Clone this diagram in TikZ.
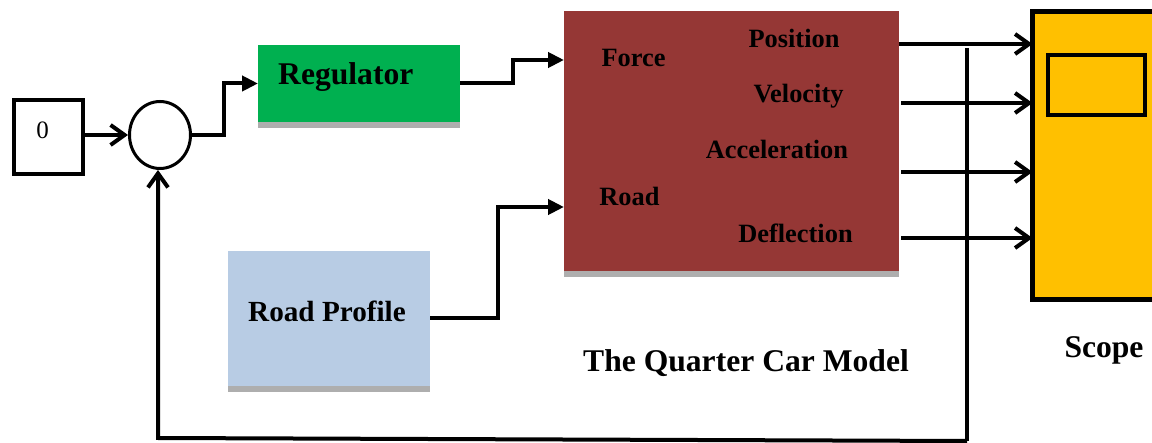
\documentclass[tikz,border=0pt]{standalone}
\usepackage{fontspec}
\setmainfont{Liberation Serif}
\usetikzlibrary{arrows.meta,shapes.geometric}
\definecolor{regGreen}{RGB}{0,176,80}
\definecolor{carBrown}{RGB}{149,55,53}
\definecolor{roadBlue}{RGB}{184,204,228}
\definecolor{scopeYellow}{RGB}{255,192,0}
\definecolor{shadeGray}{RGB}{174,174,174}
\tikzset{
  block/.style={rectangle, inner sep=0pt, outer sep=0pt},
  wire/.style={line width=4pt, draw=black},
  barbarrow/.style={-{Straight Barb[length=14pt,width=20pt]}},
  triarrow/.style={-{Triangle[length=16pt,width=15pt]}},
  biglabel/.style={inner sep=0pt, font=\fontsize{31.6}{36}\selectfont\bfseries},
  portlabel/.style={inner sep=0pt, font=\fontsize{26.4}{30}\selectfont\bfseries},
}
\begin{document}
\begin{tikzpicture}[x=1pt,y=-1pt]
\useasboundingbox (0,0) rectangle (1152,443);
\clip (0,0) rectangle (1152,443);

% constant source and summing junction
\node[block, draw, line width=4.5pt, minimum width=69pt, minimum height=74pt] (const) at (48.5,137) {};
\node[inner sep=0pt, font=\fontsize{25}{28}\selectfont, anchor=base] (constval) at (42.5,139) {0};
\node[ellipse, draw, line width=3pt, inner sep=0pt, minimum width=61pt, minimum height=67pt] (sum) at (160,135) {};

% regulator block with its shadow bar
\node[block, fill=regGreen, minimum width=202pt, minimum height=77pt] (reg) at (359,83.5) {};
\fill[shadeGray] (reg.south west) rectangle ++(202,6);
\node[biglabel, anchor=base west] (regtext) at (278,85) {Regulator};

% quarter car model block
\node[block, fill=carBrown, minimum width=335pt, minimum height=260pt] (model) at (731.5,141) {};
\fill[shadeGray] (model.south west) rectangle ++(335,6);
\node[portlabel, anchor=base] (pForce) at (633.5,66.7) {Force};
\node[portlabel, anchor=base] (pRoad) at (629.5,206) {Road};
\node[portlabel, anchor=base] (pPos) at (794,48) {Position};
\node[portlabel, anchor=base] (pVel) at (798.5,103) {Velocity};
\node[portlabel, anchor=base] (pAcc) at (777,159) {Acceleration};
\node[portlabel, anchor=base] (pDef) at (795.5,243) {Deflection};
\node[biglabel, anchor=base] (modeltitle) at (746,372) {The Quarter Car Model};

% road profile block
\node[block, fill=roadBlue, minimum width=202pt, minimum height=135pt] (road) at (329,318.5) {};
\fill[shadeGray] (road.south west) rectangle ++(202,6);
\node[inner sep=0pt, font=\fontsize{29.2}{33}\selectfont\bfseries, anchor=base west] (roadtext) at (248,321.7) {Road Profile};

% scope
\node[block, draw, fill=scopeYellow, line width=5pt, minimum width=140pt, minimum height=288pt] (scope) at (1102.5,155.5) {};
\node[block, draw, line width=4pt, minimum width=97pt, minimum height=60pt] (screen) at (1096.5,85) {};
\node[biglabel, anchor=base] (scopetext) at (1104,358) {Scope};

% port coordinates
\coordinate (inForce) at (564,60);
\coordinate (inRoad) at (564,207);
\coordinate (outPos) at (899,44);
\coordinate (outVel) at (901,103);
\coordinate (outAcc) at (901,172);
\coordinate (outDef) at (901,238);
\coordinate (tapTop) at (967,48);
\coordinate (tapBot) at (967,441);
\coordinate (fbCorner) at (158,438);

% signal wiring
\draw[wire, barbarrow] (sum.west -| const.east) -- (sum.west);
\draw[wire, triarrow] (sum.east) -- ++(32,0) |- (reg.west);
\draw[wire, triarrow] (reg.east) -- (513,83.5) |- (inForce);
\draw[wire, triarrow] (road.east) -- (498,318.5) |- (inRoad);
\draw[wire, barbarrow] (outPos) -- (outPos -| scope.west);
\draw[wire, barbarrow] (outVel) -- (outVel -| scope.west);
\draw[wire, barbarrow] (outAcc) -- (outAcc -| scope.west);
\draw[wire, barbarrow] (outDef) -- (outDef -| scope.west);

% feedback path
\draw[line width=3.5pt] (tapTop) -- (tapBot);
\draw[wire, barbarrow] (tapBot) -- (fbCorner) -- (fbCorner |- sum.south);
\end{tikzpicture}
\end{document}
